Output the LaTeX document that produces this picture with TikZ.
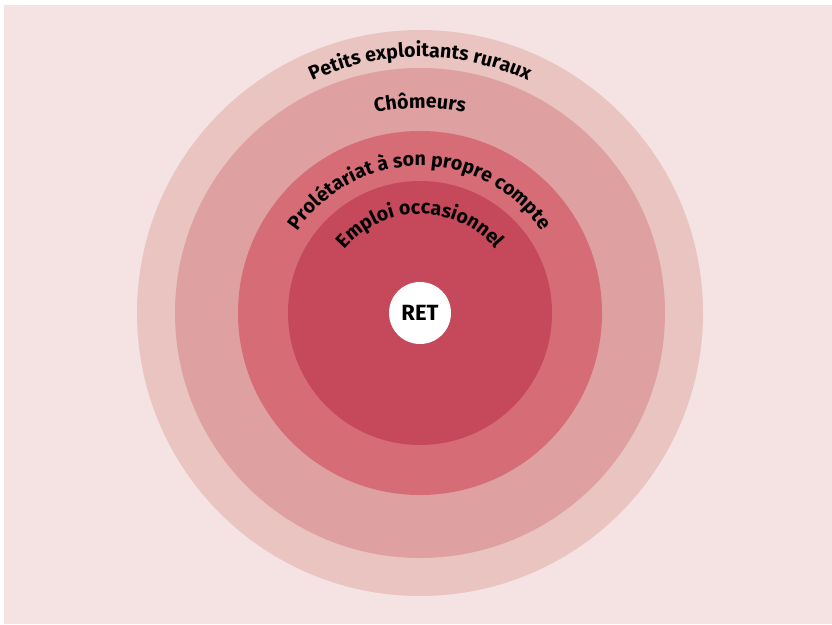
\documentclass[tikz,border=0pt]{standalone}
\usepackage{fontspec}
\setmainfont{Fira Sans}
\usetikzlibrary{decorations.text}
\definecolor{bgpink}{HTML}{F5E3E3}
\definecolor{ringA}{HTML}{E9C4C1}
\definecolor{ringB}{HTML}{DFA0A1}
\definecolor{ringC}{HTML}{D56C76}
\definecolor{ringD}{HTML}{C5495B}
\tikzset{
  arclabel/.style={decorate, decoration={text along path, text align=center,
     text format delimiters={|}{|}, text={#1}}},
}
\begin{document}
\begin{tikzpicture}[x=1pt,y=1pt]
\useasboundingbox (0,0) rectangle (832,624);
\fill[white] (0,0) rectangle (832,624);
\fill[bgpink] (4,0) rectangle (832,619);
\coordinate (c) at (420,311);
\fill[ringA] (c) circle[radius=283];
\fill[ringB] (c) circle[radius=245];
\fill[ringC] (c) circle[radius=182];
\fill[ringD] (c) circle[radius=132];
\node[circle, fill=white, minimum size=62pt, inner sep=0pt, font=\fontsize{22}{26}\selectfont\bfseries] (ret) at (c) {RET};
\path[arclabel={|\fontsize{19.6}{23}\selectfont\bfseries|Petits exploitants ruraux}]
  (c) ++(160:256) arc[start angle=160, end angle=20, radius=256];
\path[arclabel={|\fontsize{19.6}{23}\selectfont\bfseries|Chômeurs}]
  (c) ++(160:205) arc[start angle=160, end angle=20, radius=205];
\path[arclabel={|\fontsize{19.6}{23}\selectfont\bfseries|Prolétariat à son propre compte}]
  (c) ++(175:147) arc[start angle=175, end angle=5, radius=147];
\path[arclabel={|\fontsize{19.6}{23}\selectfont\bfseries|Emploi occasionnel}]
  (c) ++(175:99) arc[start angle=175, end angle=5, radius=99];
\end{tikzpicture}
\end{document}
